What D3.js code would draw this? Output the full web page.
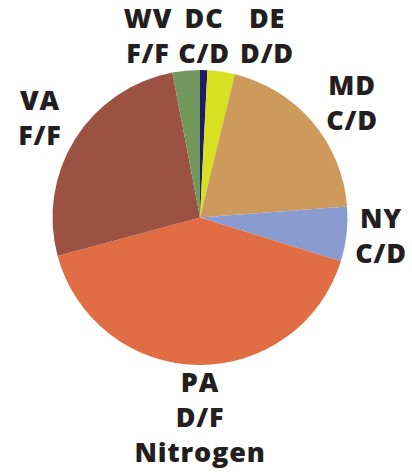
<!DOCTYPE html>
<html>
<head>
<meta charset="utf-8">
<script src="https://cdn.jsdelivr.net/npm/d3@7"></script>
<style>
	body { margin: 0; background: #fff; }
	#vis text {
		font-family: "Open Sans", "DejaVu Sans", sans-serif;
		font-weight: 800;
		font-size: 27px;
		letter-spacing: 0.8px;
		fill: #231f20;
	}
</style>
</head>
<body>
<div id="visHolder"></div>
<script>
// share of the total, clockwise from 12 o'clock
const states = ["DC", "DE", "MD", "NY", "PA", "VA", "WV"];
const shares = [0.8, 3.0, 20.0, 6.0, 41.0, 26.2, 3.0];
const ratings = ["C/D", "D/D", "C/D", "C/D", "D/F", "F/F", "F/F"];
const colors = ["#1e1c64", "#d8e022", "#cd9a5c", "#8a9bcf", "#e06d44", "#9b5243", "#72985e"];
const title = "Nitrogen";

const options = {
	width: 412,
	height: 472,
	center: { x: 200, y: 217.5 },
	radius: 147.5,
	lineHeight: 35,
	// where each label's first baseline sits (hand placed, as in the print)
	labelPos: {
		DC: { x: 204, y: 28 },
		DE: { x: 267, y: 28 },
		MD: { x: 352, y: 95 },
		NY: { x: 381, y: 228 },
		PA: { x: 200, y: 392 },
		VA: { x: 40, y: 110 },
		WV: { x: 148, y: 28 },
	},
};

//build rows
const rows = states.map((s, i) => ({ state: s, share: shares[i], rating: ratings[i] }));

const svg = d3
	.select("#visHolder")
	.append("svg")
	.attr("id", "vis")
	.attr("width", options.width)
	.attr("height", options.height);

const color = d3.scaleOrdinal().domain(states).range(colors);

const pie = d3.pie().sort(null).value((d) => d.share);
const arc = d3.arc().innerRadius(0).outerRadius(options.radius);

//slices
svg
	.append("g")
	.attr("transform", `translate(${options.center.x},${options.center.y})`)
	.selectAll("path")
	.data(pie(rows))
	.join("path")
	.attr("d", arc)
	.attr("fill", (d) => color(d.data.state));

//labels
const labels = svg
	.append("g")
	.selectAll("text")
	.data(rows)
	.join("text")
	.attr("text-anchor", "middle")
	.attr("x", (d) => options.labelPos[d.state].x)
	.attr("y", (d) => options.labelPos[d.state].y);

labels
	.selectAll("tspan")
	.data((d) => (d.state === "PA" ? [d.state, d.rating, title] : [d.state, d.rating]))
	.join("tspan")
	.attr("x", function () {
		return this.parentNode.getAttribute("x");
	})
	.attr("dy", (_d, i) => (i === 0 ? 0 : options.lineHeight))
	.text((d) => d);
</script>
</body>
</html>
